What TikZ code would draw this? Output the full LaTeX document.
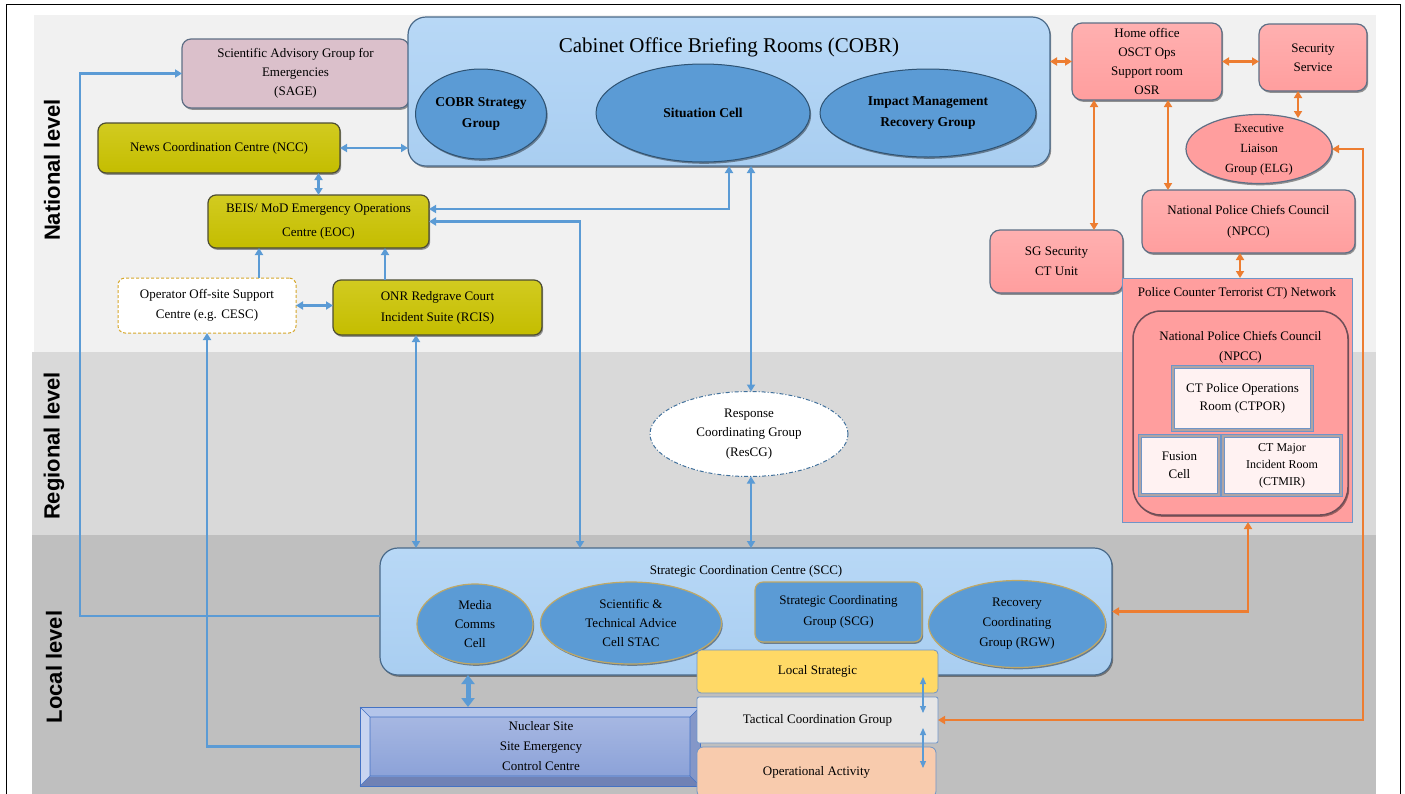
\documentclass[tikz,border=0pt]{standalone}
\usepackage{fontspec}
\setmainfont{Liberation Serif}
\newfontfamily\lvlfont{Liberation Sans}
\usetikzlibrary{shapes.geometric,arrows.meta,calc,shadows}
\definecolor{bandN}{HTML}{F1F1F1}
\definecolor{bandR}{HTML}{D9D9D9}
\definecolor{bandL}{HTML}{BFBFBF}
\definecolor{cobrfill}{HTML}{A9CEF1}
\definecolor{cobrtop}{HTML}{B8D8F6}
\definecolor{cobrdraw}{HTML}{4A6A8A}
\definecolor{ellfill}{HTML}{5B9BD5}
\definecolor{elldraw}{HTML}{2F5373}
\definecolor{golddraw}{HTML}{BFA866}
\definecolor{sagefill}{HTML}{DBC0CB}
\definecolor{pinkdraw}{HTML}{5F6F85}
\definecolor{olivefill}{HTML}{C4BD00}
\definecolor{olivetop}{HTML}{D2CB20}
\definecolor{olivedraw}{HTML}{4D4D33}
\definecolor{pinkfill}{HTML}{FF9E9E}
\definecolor{pinktop}{HTML}{FFB0B0}
\definecolor{lightpink}{HTML}{FFF2F2}
\definecolor{bevelgray}{HTML}{B0A4A4}
\definecolor{arrblue}{HTML}{5B9BD5}
\definecolor{arrorange}{HTML}{ED7D31}
\definecolor{opdash}{HTML}{D6A72A}
\definecolor{rescgdraw}{HTML}{41719C}
\definecolor{boxblue}{HTML}{6F95C8}
\definecolor{lsfill}{HTML}{FFD966}
\definecolor{tcgfill}{HTML}{E6E6E6}
\definecolor{opfill}{HTML}{F8CBAD}
\definecolor{nuctop}{HTML}{B4C5EA}
\definecolor{nucleft}{HTML}{C9D5F0}
\definecolor{nucright}{HTML}{8497C8}
\definecolor{nucbot}{HTML}{7082B5}
\definecolor{nucin1}{HTML}{A6B7E2}
\definecolor{nucin2}{HTML}{8CA2D8}
\definecolor{nucdraw}{HTML}{4472C4}
\definecolor{npccdraw}{HTML}{6E4E58}
\begin{document}
\begin{tikzpicture}[x=1pt,y=-1pt,
  base/.style={align=center,font=\fontsize{13}{19}\selectfont,inner sep=0pt,outer sep=0pt,text=black},
  sz/.style 2 args={minimum width=#1pt,minimum height=#2pt},
  shad/.style={drop shadow={shadow xshift=1.2pt,shadow yshift=-1.8pt,opacity=0.4,fill=black}},
  cobrbox/.style={base,shad,rectangle,rounded corners=18pt,top color=cobrtop,bottom color=cobrfill,draw=cobrdraw,line width=1.2pt},
  cell/.style={base,shad,ellipse,fill=ellfill,draw=elldraw,line width=1pt,font=\fontsize{13.5}{21}\selectfont\bfseries},
  scell/.style={base,shad,ellipse,fill=ellfill,draw=golddraw,line width=1.2pt},
  scgbox/.style={base,shad,rectangle,rounded corners=8pt,fill=ellfill,draw=golddraw,line width=1.2pt},
  sagebox/.style={base,shad,rectangle,rounded corners=9pt,fill=sagefill,draw=pinkdraw,line width=1.2pt},
  olivebox/.style={base,shad,rectangle,rounded corners=8pt,top color=olivetop,bottom color=olivefill,draw=olivedraw,line width=1.2pt},
  pinkbox/.style={base,shad,rectangle,rounded corners=10pt,top color=pinktop,bottom color=pinkfill,draw=pinkdraw,line width=1.2pt},
  pinkell/.style={base,shad,ellipse,fill=pinkfill,draw=pinkdraw,line width=1.2pt},
  opbox/.style={base,rectangle,rounded corners=7pt,fill=white,draw=opdash,dash pattern=on 3pt off 2pt,line width=1pt},
  rescgell/.style={base,ellipse,fill=white,draw=rescgdraw,dash pattern=on 4pt off 2pt on 1pt off 2pt,line width=1pt},
  ctnetbox/.style={base,rectangle,fill=pinkfill,draw=boxblue,line width=1pt},
  npccin/.style={base,shad,rectangle,rounded corners=28pt,fill=pinkfill,draw=npccdraw,line width=1.5pt},
  ctroom/.style={base,rectangle,fill=lightpink,draw=boxblue,line width=0.6pt,double=bevelgray,double distance=2.5pt},
  lsbox/.style={base,rectangle,rounded corners=4pt,fill=lsfill,draw=boxblue,line width=0.8pt},
  tcgbox/.style={base,rectangle,rounded corners=2pt,fill=tcgfill,draw=boxblue,line width=0.8pt},
  opabox/.style={base,rectangle,rounded corners=6pt,fill=opfill,draw=boxblue,line width=0.8pt},
  nucbox/.style={base,rectangle,fill=nucbot,draw=nucdraw,line width=1pt},
  lvl/.style={rotate=90,font=\fontsize{22}{26}\selectfont\lvlfont\bfseries,inner sep=0pt},
  barrow/.style={{Triangle[width=8pt,length=7pt]}-{Triangle[width=8pt,length=7pt]},draw=arrblue,line width=2.3pt},
  sarrow/.style={-{Triangle[width=8pt,length=7pt]},draw=arrblue,line width=2.3pt},
  tarrow/.style={{Triangle[width=13pt,length=9pt]}-{Triangle[width=13pt,length=9pt]},draw=arrblue,line width=5pt},
  smarrow/.style={{Triangle[width=6pt,length=7pt]}-{Triangle[width=6pt,length=7pt]},draw=arrblue,line width=1.1pt},
  oarrow/.style={{Triangle[width=8pt,length=7pt]}-{Triangle[width=8pt,length=7pt]},draw=arrorange,line width=2.3pt}
]
\useasboundingbox (0,0) rectangle (1405,793);
\clip (0,0) rectangle (1405,793);
\fill[white] (0,0) rectangle (1405,793);
% bands
\fill[bandN] (34,15) rectangle (1376,352);
\fill[bandR] (32,352) rectangle (1376,535);
\fill[bandL] (32,535) rectangle (1376,800);
\draw[black,line width=1pt] (6,4) rectangle (1400,810);
% level labels
\node[lvl] (lvn) at (52,170) {National level};
\node[lvl] (lvr) at (54,446) {Regional level};
\node[lvl] (lvl) at (54,667) {Local level};

% national
\node[sagebox,sz={227}{69}] (sage) at (295.5,73.5) {Scientific Advisory Group for\\Emergencies\\(SAGE)};
\node[cobrbox,sz={642}{149}] (cobr) at (729,91.5) {};
\node[base,font=\fontsize{21}{24}\selectfont] (cobrt) at (729,47) {Cabinet Office Briefing Rooms (COBR)};
\node[cell,sz={131}{90}] (csg) at (481,114) {COBR Strategy\\Group};
\node[cell,sz={214}{98}] (sit) at (703,113) {Situation Cell};
\node[cell,sz={216}{88}] (imr) at (928,113) {Impact Management\\Recovery Group};
\node[olivebox,sz={242}{50}] (ncc) at (219,148) {News Coordination Centre (NCC)};
\node[olivebox,sz={221}{53},font=\fontsize{13}{24}\selectfont] (eoc) at (318.5,221.5) {BEIS/ MoD Emergency Operations\\Centre (EOC)};
\node[opbox,sz={178}{55},font=\fontsize{13}{20}\selectfont] (op) at (207,305.5) {Operator Off-site Support\\Centre (e.g. CESC)};
\node[olivebox,sz={209}{55},font=\fontsize{13}{21}\selectfont] (onr) at (437.5,307.5) {ONR Redgrave Court\\Incident Suite (RCIS)};

% regional
\node[rescgell,sz={198}{85},font=\fontsize{13}{19.5}\selectfont] (rescg) at (749,434) {Response\\Coordinating Group\\(ResCG)};

% right side
\node[pinkbox,sz={150}{77}] (home) at (1147,61.5) {Home office\\OSCT Ops\\Support room\\OSR};
\node[pinkbox,sz={108}{67}] (sec) at (1313,57.5) {Security\\Service};
\node[pinkell,sz={146}{69}] (elg) at (1259,149) {};
\node[base,font=\fontsize{12.5}{20}\selectfont] (elgt) at (1259,150) {Executive\\Liaison\\Group (ELG)};
\node[pinkbox,sz={213}{63},font=\fontsize{13}{21}\selectfont] (npcc) at (1248.5,221.5) {National Police Chiefs Council\\(NPCC)};
\node[pinkbox,sz={133}{63},font=\fontsize{13}{20}\selectfont] (sg) at (1056.5,261.5) {SG Security\\CT Unit};
\node[ctnetbox,sz={230}{244}] (ctnet) at (1237,400) {};
\node[base] (ctnett) at (1237,293) {Police Counter Terrorist CT) Network};
\node[npccin,sz={215}{204}] (npcc2) at (1240.5,413) {};
\node[base,font=\fontsize{13}{20}\selectfont] (npcc2t) at (1240.5,347) {National Police Chiefs Council\\(NPCC)};
\node[ctroom,sz={139}{63},font=\fontsize{13}{18}\selectfont] (ctpor) at (1242.5,398.5) {CT Police Operations\\Room (CTPOR)};
\node[ctroom,sz={79}{59},font=\fontsize{13}{18}\selectfont] (fusion) at (1179.5,465.5) {Fusion\\Cell};
\node[ctroom,sz={118}{59},font=\fontsize{12}{17}\selectfont] (ctmir) at (1282,465.5) {CT Major\\Incident Room\\(CTMIR)};

% local
\node[cobrbox,sz={732}{127}] (scc) at (746,611.5) {};
\node[base] (scct) at (746,571) {Strategic Coordination Centre (SCC)};
\node[scell,sz={116}{80}] (media) at (475,624) {Media\\Comms\\Cell};
\node[scell,sz={181}{82}] (stac) at (631,623) {Scientific \&\\Technical Advice\\Cell STAC};
\node[scgbox,sz={167}{60},font=\fontsize{13}{21}\selectfont] (scg) at (838.5,612) {Strategic Coordinating\\Group (SCG)};
\node[scell,sz={177}{87},font=\fontsize{13}{20}\selectfont] (rgw) at (1017,624) {Recovery\\Coordinating\\Group (RGW)};

% nuclear site (bevelled)
\node[nucbox,sz={340}{79}] (nuc) at (530,746.5) {};
\coordinate (nNWi) at ($(nuc.north west)+(10,10)$);
\coordinate (nNEi) at ($(nuc.north east)+(-10,10)$);
\coordinate (nSWi) at ($(nuc.south west)+(10,-10)$);
\coordinate (nSEi) at ($(nuc.south east)+(-10,-10)$);
\fill[nuctop] (nuc.north west) -- (nuc.north east) -- (nNEi) -- (nNWi) -- cycle;
\fill[nucleft] (nuc.north west) -- (nNWi) -- (nSWi) -- (nuc.south west) -- cycle;
\fill[nucright] (nuc.north east) -- (nNEi) -- (nSEi) -- (nuc.south east) -- cycle;
\shade[top color=nucin1,bottom color=nucin2] (nNWi) rectangle (nSEi);
\draw[nucdraw,line width=0.6pt] (nuc.north west) -- (nNWi) (nuc.north east) -- (nNEi) (nuc.south west) -- (nSWi) (nuc.south east) -- (nSEi) (nNWi) rectangle (nSEi);
\draw[nucdraw,line width=1pt] (nuc.north west) rectangle (nuc.south east);
\node[base,font=\fontsize{13}{20}\selectfont] (nuct) at (541,746.5) {Nuclear Site\\Site Emergency\\Control Centre};

\node[lsbox,sz={241}{43}] (ls) at (817.5,671.5) {Local Strategic};
\node[tcgbox,sz={241}{46}] (tcg) at (817.5,720) {Tactical Coordination Group};
\node[opabox,sz={239}{50}] (opa) at (816.5,772) {Operational Activity};

% blue connectors
\draw[barrow] (ncc.east) -- (ncc.east -| cobr.west);
\draw[barrow] (ncc.south -| eoc.north) -- (eoc.north);
\coordinate (a1) at ($(op.north)+(52,0)$);
\draw[sarrow] (a1) -- (a1 |- eoc.south);
\coordinate (a2) at ($(onr.north)+(-52.5,0)$);
\draw[sarrow] (a2) -- (a2 |- eoc.south);
\draw[barrow] (op.east) -- (op.east -| onr.west);
\coordinate (a3) at ($(scc.west)+(0,4.5)$);
\coordinate (a3b) at ($(a3)+(-300,0)$);
\draw[sarrow] (a3) -- (a3b) |- (sage.west);
\draw[sarrow] (nuc.west) -| (op.south);
\coordinate (a4) at ($(eoc.east)+(0,-12.5)$);
\draw[barrow] (a4) -| (cobr.south);
\coordinate (a5) at ($(scc.north)+(-166,0)$);
\draw[barrow] (eoc.east) -| (a5);
\coordinate (a6) at ($(rescg.north)+(2,0)$);
\draw[barrow] (a6) -- (a6 |- cobr.south);
\coordinate (a7) at ($(rescg.south)+(2,0)$);
\draw[barrow] (a7) -- (a7 |- scc.north);
\coordinate (a8) at ($(onr.south)+(-21.5,0)$);
\draw[barrow] (a8) -- (a8 |- scc.north);
\coordinate (a9) at ($(media.south)+(-7,0)$);
\draw[tarrow] (a9 |- scc.south) -- (a9 |- nuc.north);
\coordinate (b1) at ($(ls.south east)+(-15,-16)$);
\coordinate (b2) at ($(tcg.north east)+(-15,16)$);
\draw[smarrow] (b1) -- (b2);
\coordinate (b3) at ($(tcg.south east)+(-15,-15)$);
\coordinate (b4) at ($(opa.north east)+(-13,21)$);
\draw[smarrow] (b3) -- (b4);

% orange connectors
\draw[oarrow] (home.west) -- (home.west -| cobr.east);
\draw[oarrow] (home.east) -- (home.east -| sec.west);
\coordinate (c1) at ($(sec.south)+(-15,0)$);
\coordinate (c2) at ($(elg.north)+(39,3.5)$);
\draw[oarrow] (c1) -- (c2);
\draw[oarrow] (elg.east) -- ++(31,0) |- (tcg.east);
\coordinate (c3) at ($(home.south west)+(22,0)$);
\draw[oarrow] (c3) -- (c3 |- sg.north);
\coordinate (c4) at ($(home.south)+(21,0)$);
\draw[oarrow] (c4) -- (c4 |- npcc.north);
\coordinate (c5) at ($(npcc.south)+(-8.5,0)$);
\draw[oarrow] (c5) -- (c5 |- ctnet.north);
\coordinate (c6) at ($(ctnet.south)+(11,0)$);
\draw[oarrow] (scc.east) -| (c6);
\end{tikzpicture}
\end{document}
